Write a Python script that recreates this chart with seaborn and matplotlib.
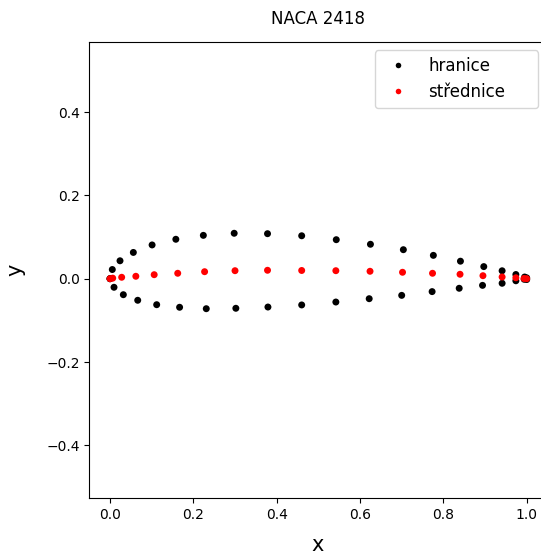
import matplotlib
matplotlib.use("Agg")
import matplotlib.pyplot as plt
import seaborn as sns
import pandas as pd

# Boundary (hranice) - upper surface
x_upper = [0.0, 0.0055, 0.024, 0.056, 0.101, 0.158, 0.224, 0.298, 0.378, 0.460,
           0.543, 0.625, 0.704, 0.776, 0.841, 0.897, 0.941, 0.974, 0.995, 1.0]
y_upper = [0.0, 0.022, 0.043, 0.063, 0.081, 0.0946, 0.104, 0.109, 0.108, 0.103,
           0.0936, 0.0826, 0.0696, 0.056, 0.042, 0.029, 0.019, 0.010, 0.004, 0.002]
# Boundary (hranice) - lower surface
x_lower = [0.0, 0.0096, 0.032, 0.0665, 0.112, 0.167, 0.231, 0.302, 0.379, 0.460,
           0.542, 0.622, 0.700, 0.773, 0.838, 0.894, 0.941, 0.974, 0.994, 1.0]
y_lower = [0.0, -0.0206, -0.0384, -0.0518, -0.0624, -0.0686, -0.072, -0.071, -0.068, -0.063,
           -0.056, -0.048, -0.040, -0.031, -0.023, -0.016, -0.011, -0.005, -0.0014, -0.002]
# Camber line (střednice)
x_camber = [0.0, 0.0065, 0.028, 0.062, 0.106, 0.1625, 0.227, 0.300, 0.378, 0.460,
            0.542, 0.624, 0.702, 0.774, 0.840, 0.895, 0.941, 0.974, 0.9935, 1.0]
y_camber = [0.0, 0.0013, 0.0034, 0.0058, 0.0096, 0.013, 0.0168, 0.0192, 0.0202, 0.0197,
            0.0192, 0.0178, 0.0154, 0.013, 0.0106, 0.0072, 0.0041, 0.0022, 0.0005, 0.0]

series_names = ["hranice", "střednice"]
title = "NACA 2418"

df = pd.DataFrame({
    "x": x_upper + x_lower + x_camber,
    "y": y_upper + y_lower + y_camber,
    "series": [series_names[0]] * (len(x_upper) + len(x_lower)) + [series_names[1]] * len(x_camber),
})

fig = plt.figure(figsize=(5.41, 5.54), dpi=100)
ax_w_px = 546.6 - 89.3
ax = fig.add_axes([89.3 / 541, 55.7 / 554, ax_w_px / 541, (498.3 - 42) / 554])

sns.scatterplot(data=df, x="x", y="y", hue="series",
                palette={series_names[0]: "black", series_names[1]: "red"},
                s=25, linewidth=0, ax=ax)

leg = ax.get_legend()
handles = leg.legend_handles
labels = [t.get_text() for t in leg.get_texts()]
w_frac = (163.3 + 2 * 8.3) / ax_w_px
ax.legend(handles, labels, loc="upper right", fontsize=12, markerscale=0.8,
          mode="expand", bbox_to_anchor=(1 - w_frac, 0, w_frac, 1))

ax.set_xlim(-0.0497, (546.6 - 110) / 416.7)
ax.set_ylim(-0.527, 0.568)
ax.set_xticks([0.0, 0.2, 0.4, 0.6, 0.8, 1.0])
ax.set_yticks([-0.4, -0.2, 0.0, 0.2, 0.4])
ax.set_xlabel("x", fontsize=15, labelpad=9)
ax.set_ylabel("y", fontsize=15, labelpad=15)
ax.set_title(title, pad=13)

fig.savefig("out.png", dpi=100)
